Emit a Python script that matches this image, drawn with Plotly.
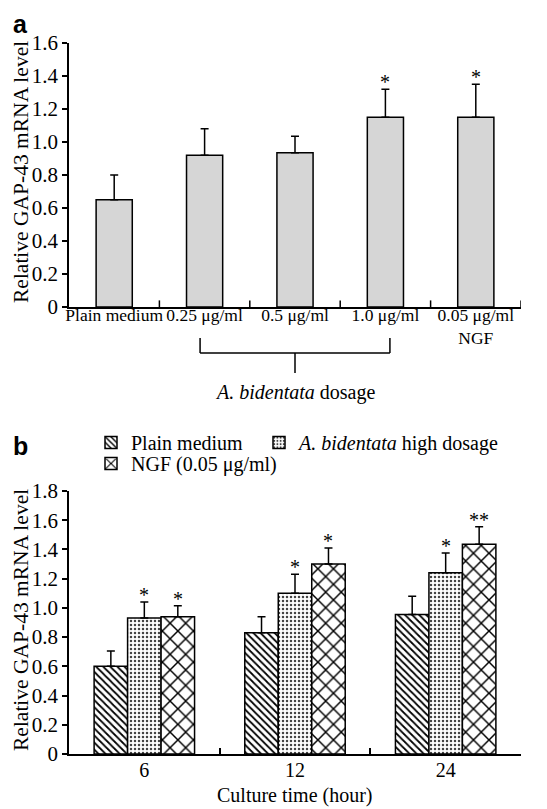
import plotly.graph_objects as go

# ---------- data ----------
dose_labels = ["Plain medium", "0.25 μg/ml", "0.5 μg/ml", "1.0 μg/ml", "0.05 μg/ml<br>NGF"]
dose_values = [0.65, 0.92, 0.935, 1.15, 1.15]
dose_errors = [0.15, 0.16, 0.10, 0.17, 0.20]
dose_stars = ["", "", "", "*", "*"]

time_labels = ["6", "12", "24"]
series_names = ["Plain medium", "<i>A. bidentata</i> high dosage", "NGF (0.05 μg/ml)"]
plain_values = [0.60, 0.83, 0.955]
plain_errors = [0.105, 0.11, 0.125]
abid_values = [0.93, 1.10, 1.24]
abid_errors = [0.11, 0.13, 0.135]
ngf_values = [0.94, 1.30, 1.435]
ngf_errors = [0.075, 0.11, 0.12]
plain_stars = ["", "", ""]
abid_stars = ["*", "*", "*"]
ngf_stars = ["*", "*", "**"]

y_ticks_a = [0, 0.2, 0.4, 0.6, 0.8, 1.0, 1.2, 1.4, 1.6]
y_ticks_b = [0, 0.2, 0.4, 0.6, 0.8, 1.0, 1.2, 1.4, 1.6, 1.8]

# page body has an 8px margin; figure sized so that it fills the window
OFF = 8
W, H = 547 - OFF, 809 - OFF
FONT = "Liberation Serif"

def py(p):  # window pixel row -> paper fraction
    return 1 - (p - OFF) / H

def px_(x):  # window pixel column -> paper fraction
    return (x - OFF) / W

def fmt(v):
    return "0" if v == 0 else f"{v:.1f}"

fig = go.Figure()

# ---------- panel a ----------
fig.add_trace(go.Bar(
    x=list(range(len(dose_labels))), y=dose_values, width=0.4,
    marker=dict(color="#d6d6d6", line=dict(color="black", width=1.5)),
    error_y=dict(type="data", array=dose_errors, arrayminus=[0] * len(dose_errors),
                 symmetric=False, color="black", thickness=1.5, width=4),
    xaxis="x", yaxis="y", showlegend=False,
))

# ---------- panel b ----------
patterns = [
    dict(shape="\\", size=5, solidity=0.35, fgcolor="black", bgcolor="white"),
    dict(shape=".", size=4, solidity=0.3, fgcolor="#444444", bgcolor="white"),
    dict(shape="x", size=11, solidity=0.25, fgcolor="black", bgcolor="white"),
]
vals = [plain_values, abid_values, ngf_values]
errs = [plain_errors, abid_errors, ngf_errors]
legend_ids = ["legend", "legend2", "legend3"]
for name, v, e, pat, lg in zip(series_names, vals, errs, patterns, legend_ids):
    fig.add_trace(go.Bar(
        x=time_labels, y=v, name=name, legend=lg,
        marker=dict(color="white", line=dict(color="black", width=1.5), pattern=pat),
        error_y=dict(type="data", array=e, arrayminus=[0] * len(e), symmetric=False,
                     color="black", thickness=1.5, width=4),
        xaxis="x2", yaxis="y2",
    ))

bargap = 1 / 3
xdom = [px_(69), px_(521)]
YTICKFONT = dict(family=FONT, size=21, color="black")
XTICKFONT = dict(family=FONT, size=20, color="black")
axis_common = dict(showline=True, linecolor="black", linewidth=1.5, showgrid=False,
                   zeroline=False, tickcolor="black", automargin=False)

def legend_at(x, yc):
    return dict(orientation="h", x=px_(x), xanchor="left", y=py(yc - 20), yanchor="top",
                font=dict(family=FONT, size=20, color="black"),
                bgcolor="rgba(0,0,0,0)", itemwidth=30)

fig.update_layout(
    template="none",
    width=W, height=H, autosize=False,
    margin=dict(l=0, r=0, t=0, b=0),
    paper_bgcolor="white", plot_bgcolor="white",
    barmode="group", bargap=bargap, bargroupgap=0,
    font=dict(family=FONT, color="black"),
    xaxis=dict(domain=xdom, anchor="y", type="linear", range=[-0.5, len(dose_labels) - 0.5],
               tickmode="array", tickvals=list(range(len(dose_labels))), ticktext=dose_labels,
               ticks="", tickangle=0, ticklabelstandoff=-9,
               tickfont=dict(family=FONT, size=17.5, color="black"),
               **axis_common),
    yaxis=dict(domain=[py(307), py(43)], anchor="x", range=[0, 1.6],
               tickmode="array", tickvals=y_ticks_a, ticktext=[fmt(t) for t in y_ticks_a],
               ticks="outside", ticklen=5, tickwidth=1.5, tickfont=YTICKFONT, **axis_common),
    xaxis2=dict(domain=xdom, anchor="y2", type="category", tickangle=0,
                ticks="inside", tickson="boundaries", ticklen=6, tickwidth=1.5,
                ticklabelstandoff=-3, tickfont=XTICKFONT, **axis_common),
    yaxis2=dict(domain=[py(754), py(491)], anchor="x2", range=[0, 1.8],
                tickmode="array", tickvals=y_ticks_b, ticktext=[fmt(t) for t in y_ticks_b],
                ticks="outside", ticklen=5, tickwidth=1.5, tickfont=YTICKFONT, **axis_common),
    legend=legend_at(91, 443),
    legend2=legend_at(259, 443),
    legend3=legend_at(91, 464),
)

# top chart category boundary ticks (inside)
n = len(dose_labels)
for i in range(n):
    b = i + 0.5
    fig.add_shape(type="line", xref="x", yref="y", x0=b, x1=b, y0=0, y1=0.04,
                  line=dict(color="black", width=1.5))

STARFONT = dict(family=FONT, size=20, color="black")
# stars panel a
for i, (v, e, s) in enumerate(zip(dose_values, dose_errors, dose_stars)):
    if s:
        fig.add_annotation(x=i, y=v + e, xref="x", yref="y", text=s, showarrow=False,
                           yanchor="bottom", yshift=-6, font=STARFONT)

# stars panel b
bw = (1 - bargap) / 3
for k, (v_list, e_list, s_list) in enumerate(zip(vals, errs, [plain_stars, abid_stars, ngf_stars])):
    for i, (v, e, s) in enumerate(zip(v_list, e_list, s_list)):
        if s:
            fig.add_annotation(x=i + (k - 1) * bw, y=v + e, xref="x2", yref="y2", text=s,
                               showarrow=False, yanchor="bottom", yshift=-6, font=STARFONT)

# bracket under dosage labels
bx0, bx1 = 1 - 0.05, 3 + 0.05
line = dict(color="black", width=1.5)
fig.add_shape(type="line", xref="x", yref="paper", x0=bx0, x1=bx1, y0=py(353), y1=py(353), line=line)
fig.add_shape(type="line", xref="x", yref="paper", x0=bx0, x1=bx0, y0=py(353), y1=py(338), line=line)
fig.add_shape(type="line", xref="x", yref="paper", x0=bx1, x1=bx1, y0=py(353), y1=py(338), line=line)
fig.add_shape(type="line", xref="x", yref="paper", x0=(bx0 + bx1) / 2, x1=(bx0 + bx1) / 2,
              y0=py(353), y1=py(373), line=line)
fig.add_annotation(x=(bx0 + bx1) / 2, y=py(392), xref="x", yref="paper",
                   xanchor="center", yanchor="middle",
                   text="<i>A. bidentata</i> dosage", showarrow=False,
                   font=dict(family=FONT, size=20, color="black"))

# axis titles
for yc in [py(172), py(620)]:
    fig.add_annotation(x=px_(21), y=yc, xref="paper", yref="paper", textangle=-90,
                       xanchor="center", yanchor="middle", borderpad=0,
                       text="Relative GAP-43 mRNA level", showarrow=False,
                       font=dict(family=FONT, size=21.5, color="black"))
fig.add_annotation(x=(xdom[0] + xdom[1]) / 2, y=0, xref="paper", yref="paper",
                   xanchor="center", yanchor="bottom",
                   text="Culture time (hour)", showarrow=False,
                   font=dict(family=FONT, size=20, color="black"))

# panel letters
for letter, yc in [("a", py(24)), ("b", py(446))]:
    fig.add_annotation(x=px_(20), y=yc, xref="paper", yref="paper", text=f"<b>{letter}</b>",
                       xanchor="center", yanchor="middle", showarrow=False, borderpad=0,
                       font=dict(family="Liberation Sans", size=25, color="black"))

fig.write_html("out.html")
